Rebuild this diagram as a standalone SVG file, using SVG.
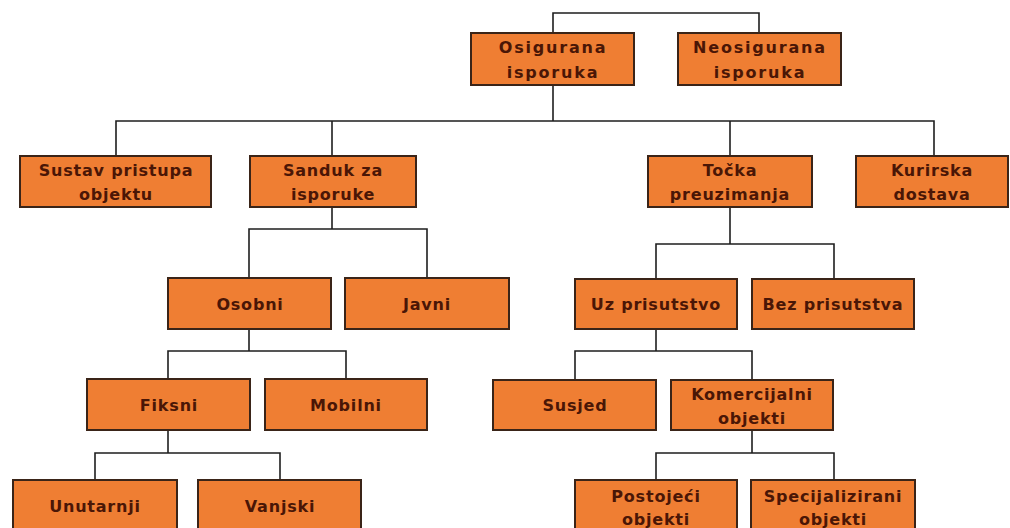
<svg xmlns="http://www.w3.org/2000/svg" width="1010" height="528" viewBox="0 0 1010 528">
<style>
.box{fill:#EF7E33;stroke:#3a2418;stroke-width:2}
.t{font-family:"DejaVu Sans","Liberation Sans",Verdana,sans-serif;font-weight:bold;font-size:16px;fill:#4a1606;text-anchor:middle;letter-spacing:0.8px}
.tw{letter-spacing:1.8px}
.c{fill:none;stroke:#1e1e1e;stroke-width:1.6}
</style>
<rect width="1010" height="528" fill="#ffffff"/>
<g id="connectors">
<polyline class="c" points="553,33 553,13 759,13 759,33"/>
<line class="c" x1="553" y1="85" x2="553" y2="121"/>
<polyline class="c" points="116,156 116,121 934,121 934,156"/>
<line class="c" x1="332" y1="121" x2="332" y2="156"/>
<line class="c" x1="730" y1="121" x2="730" y2="156"/>
<line class="c" x1="332" y1="207" x2="332" y2="229"/>
<polyline class="c" points="249,278 249,229 427,229 427,278"/>
<line class="c" x1="730" y1="207" x2="730" y2="244"/>
<polyline class="c" points="656,279 656,244 834,244 834,279"/>
<line class="c" x1="249" y1="329" x2="249" y2="351"/>
<polyline class="c" points="168,379 168,351 346,351 346,379"/>
<line class="c" x1="656" y1="329" x2="656" y2="351"/>
<polyline class="c" points="575,380 575,351 752,351 752,380"/>
<line class="c" x1="168" y1="430" x2="168" y2="453"/>
<polyline class="c" points="95,480 95,453 280,453 280,480"/>
<line class="c" x1="752" y1="430" x2="752" y2="453"/>
<polyline class="c" points="656,480 656,453 834,453 834,480"/>
</g>
<g id="osigurana"><rect class="box" x="471" y="33" width="163" height="52"/><text class="t tw" x="553" y="53">Osigurana</text><text class="t tw" x="553" y="78">isporuka</text></g>
<g id="neosigurana"><rect class="box" x="678" y="33" width="163" height="52"/><text class="t tw" x="760" y="53">Neosigurana</text><text class="t tw" x="760" y="78">isporuka</text></g>
<g id="sustav"><rect class="box" x="20" y="156" width="191" height="51"/><text class="t" x="116" y="176">Sustav pristupa</text><text class="t" x="116" y="200">objektu</text></g>
<g id="sanduk"><rect class="box" x="250" y="156" width="166" height="51"/><text class="t" x="333" y="176">Sanduk za</text><text class="t" x="333" y="200">isporuke</text></g>
<g id="tocka"><rect class="box" x="648" y="156" width="164" height="51"/><text class="t" x="730" y="176">Točka</text><text class="t" x="730" y="200">preuzimanja</text></g>
<g id="kurirska"><rect class="box" x="856" y="156" width="152" height="51"/><text class="t" x="932" y="176">Kurirska</text><text class="t" x="932" y="200">dostava</text></g>
<g id="osobni"><rect class="box" x="168" y="278" width="163" height="51"/><text class="t" x="250" y="309.5">Osobni</text></g>
<g id="javni"><rect class="box" x="345" y="278" width="164" height="51"/><text class="t" x="427" y="309.5">Javni</text></g>
<g id="uz"><rect class="box" x="575" y="279" width="162" height="50"/><text class="t" x="656" y="310">Uz prisutstvo</text></g>
<g id="bez"><rect class="box" x="752" y="279" width="162" height="50"/><text class="t" x="833" y="310">Bez prisutstva</text></g>
<g id="fiksni"><rect class="box" x="87" y="379" width="163" height="51"/><text class="t" x="169" y="410.5">Fiksni</text></g>
<g id="mobilni"><rect class="box" x="265" y="379" width="162" height="51"/><text class="t" x="346" y="410.5">Mobilni</text></g>
<g id="susjed"><rect class="box" x="493" y="380" width="163" height="50"/><text class="t" x="575" y="411">Susjed</text></g>
<g id="komercijalni"><rect class="box" x="671" y="380" width="162" height="50"/><text class="t" x="752" y="400">Komercijalni</text><text class="t" x="752" y="424">objekti</text></g>
<g id="unutarnji"><rect class="box" x="13" y="480" width="164" height="52"/><text class="t" x="95" y="512">Unutarnji</text></g>
<g id="vanjski"><rect class="box" x="198" y="480" width="163" height="52"/><text class="t" x="280" y="512">Vanjski</text></g>
<g id="postojeci"><rect class="box" x="575" y="480" width="162" height="52"/><text class="t" x="656" y="502">Postojeći</text><text class="t" x="656" y="525">objekti</text></g>
<g id="specijalizirani"><rect class="box" x="751" y="480" width="164" height="52"/><text class="t" x="833" y="502">Specijalizirani</text><text class="t" x="833" y="525">objekti</text></g>
</svg>
